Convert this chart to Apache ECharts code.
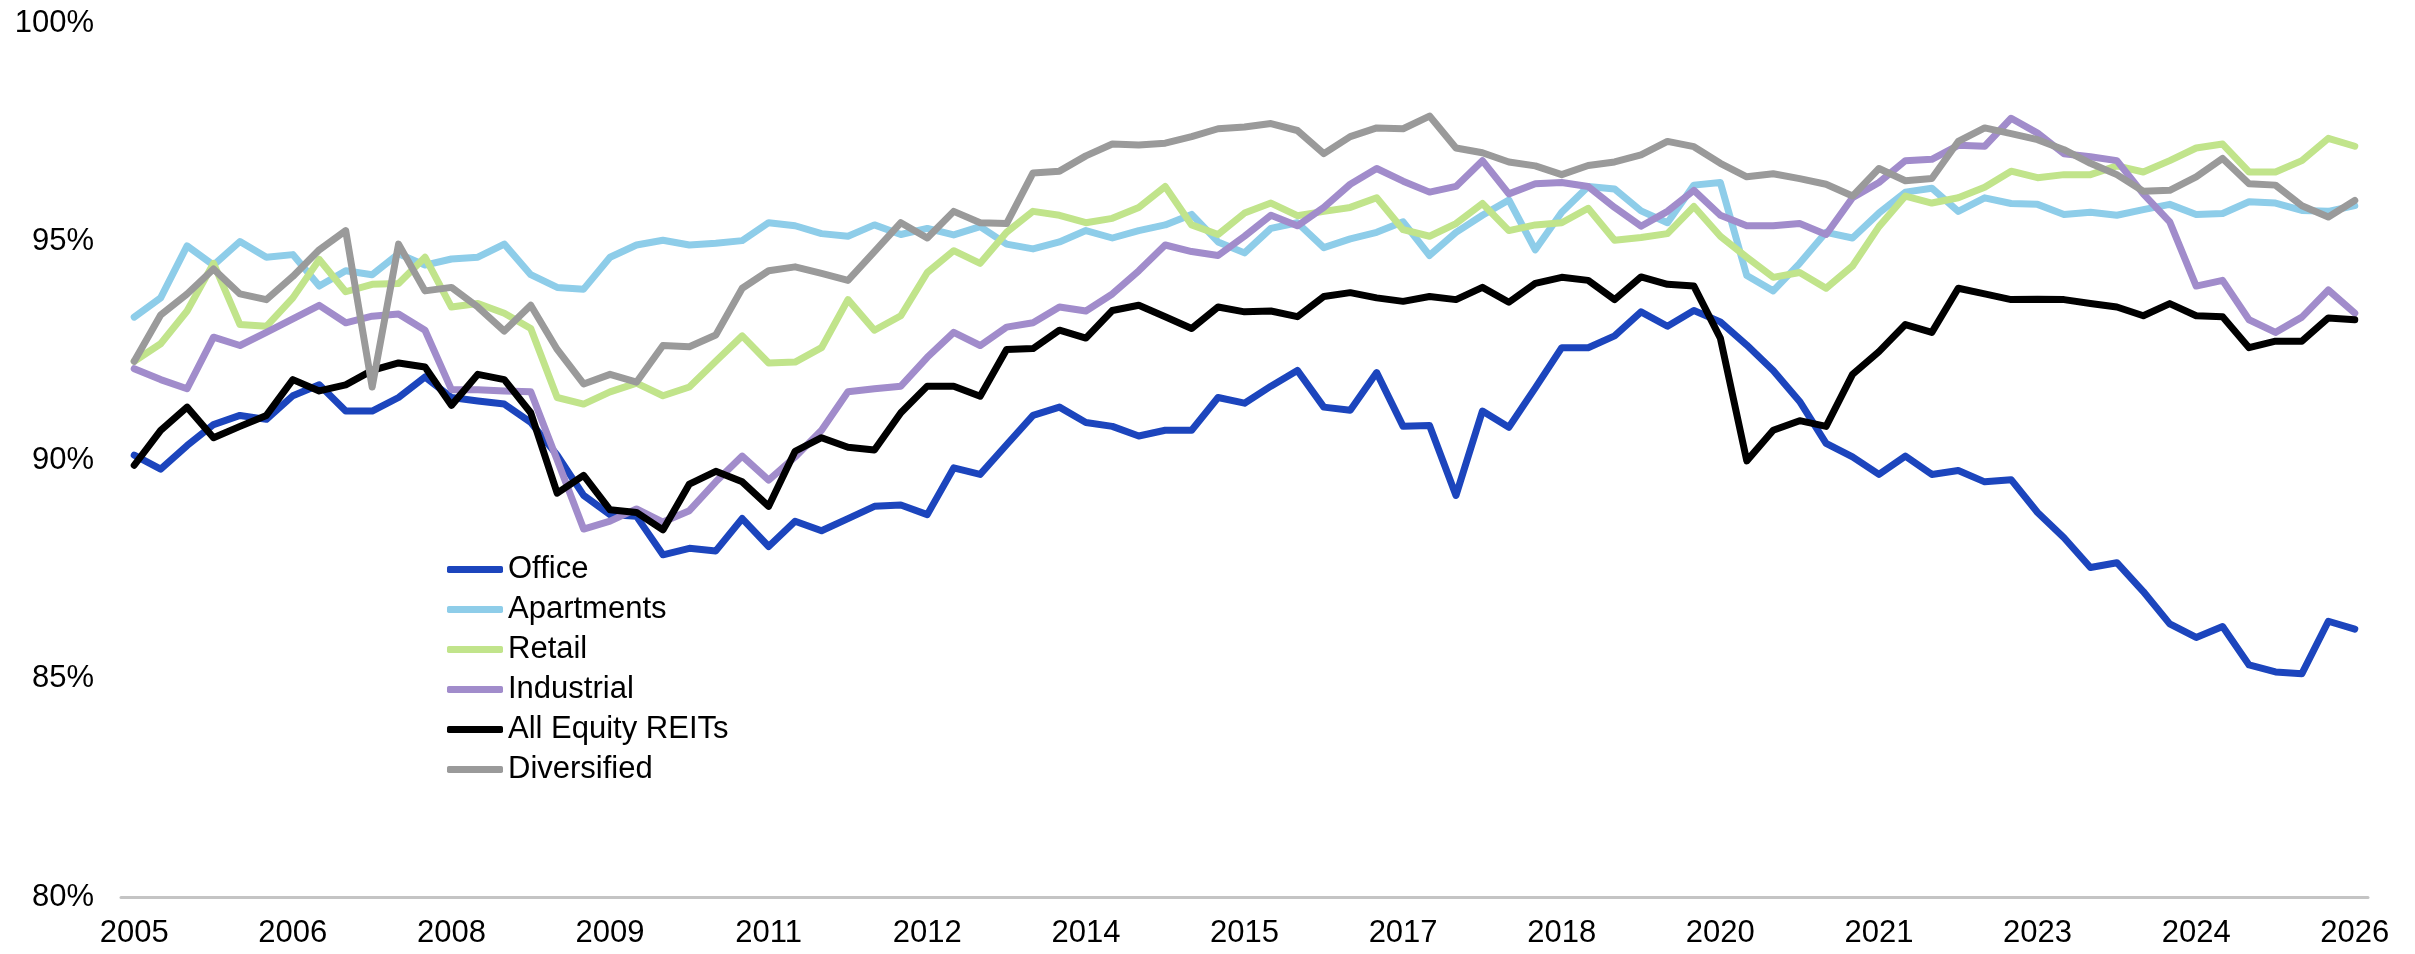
<!DOCTYPE html>
<html>
<head>
<meta charset="utf-8">
<script src="https://cdn.jsdelivr.net/npm/echarts@6/dist/echarts.min.js"></script>
<style>
  html, body { margin: 0; padding: 0; background: #fff; }
  #chart { width: 2415px; height: 954px; }
</style>
</head>
<body>
<div id="chart"></div>
<script>
// quarterly, 2005 Q1 .. 2026 Q1
const quarters = [
  "2005 Q1","2005 Q2","2005 Q3","2005 Q4","2006 Q1","2006 Q2","2006 Q3","2006 Q4",
  "2007 Q1","2007 Q2","2007 Q3","2007 Q4","2008 Q1","2008 Q2","2008 Q3","2008 Q4",
  "2009 Q1","2009 Q2","2009 Q3","2009 Q4","2010 Q1","2010 Q2","2010 Q3","2010 Q4",
  "2011 Q1","2011 Q2","2011 Q3","2011 Q4","2012 Q1","2012 Q2","2012 Q3","2012 Q4",
  "2013 Q1","2013 Q2","2013 Q3","2013 Q4","2014 Q1","2014 Q2","2014 Q3","2014 Q4",
  "2015 Q1","2015 Q2","2015 Q3","2015 Q4","2016 Q1","2016 Q2","2016 Q3","2016 Q4",
  "2017 Q1","2017 Q2","2017 Q3","2017 Q4","2018 Q1","2018 Q2","2018 Q3","2018 Q4",
  "2019 Q1","2019 Q2","2019 Q3","2019 Q4","2020 Q1","2020 Q2","2020 Q3","2020 Q4",
  "2021 Q1","2021 Q2","2021 Q3","2021 Q4","2022 Q1","2022 Q2","2022 Q3","2022 Q4",
  "2023 Q1","2023 Q2","2023 Q3","2023 Q4","2024 Q1","2024 Q2","2024 Q3","2024 Q4",
  "2025 Q1","2025 Q2","2025 Q3","2025 Q4","2026 Q1"
];

const office = [
  90.11, 89.79, 90.33, 90.81, 91.02, 90.93, 91.47, 91.72, 91.12, 91.12, 91.43, 91.90, 91.43, 91.35, 91.28,
  90.86, 90.11, 89.19, 88.75, 88.71, 87.83, 87.98, 87.92, 88.66, 88.02, 88.60, 88.38, 88.66, 88.94,
  88.97, 88.75, 89.82, 89.67, 90.35, 91.02, 91.21, 90.86, 90.77, 90.55, 90.68, 90.68, 91.43, 91.30,
  91.69, 92.05, 91.21, 91.14, 92.00, 90.77, 90.79, 89.19, 91.12, 90.75, 91.65, 92.57, 92.57, 92.84,
  93.39, 93.06, 93.42, 93.16, 92.63, 92.05, 91.34, 90.38, 90.07, 89.67, 90.09, 89.67, 89.76, 89.50,
  89.55, 88.80, 88.22, 87.54, 87.65, 86.99, 86.25, 85.94, 86.19, 85.31, 85.15, 85.11, 86.31, 86.13
];
const apartments = [
  93.27, 93.71, 94.90, 94.46, 95.00, 94.64, 94.70, 93.98, 94.33, 94.24, 94.72, 94.46, 94.60, 94.64, 94.94,
  94.24, 93.95, 93.91, 94.64, 94.92, 95.03, 94.92, 94.96, 95.02, 95.43, 95.36, 95.18, 95.12, 95.38,
  95.16, 95.30, 95.15, 95.34, 94.94, 94.83, 94.99, 95.25, 95.08, 95.25, 95.38, 95.62, 94.99, 94.74,
  95.30, 95.43, 94.86, 95.06, 95.21, 95.45, 94.68, 95.21, 95.60, 95.95, 94.81, 95.67, 96.26, 96.20,
  95.70, 95.43, 96.29, 96.35, 94.22, 93.87, 94.50, 95.21, 95.08, 95.65, 96.13, 96.22, 95.69, 96.00,
  95.87, 95.85, 95.62, 95.67, 95.60, 95.73, 95.85, 95.62, 95.64, 95.91, 95.88, 95.71, 95.69, 95.82
];
const retail = [
  92.26, 92.66, 93.41, 94.50, 93.10, 93.06, 93.71, 94.59, 93.85, 94.02, 94.04, 94.64, 93.50, 93.58, 93.36,
  93.01, 91.43, 91.28, 91.56, 91.76, 91.47, 91.67, 92.26, 92.84, 92.22, 92.24, 92.57, 93.67, 92.97,
  93.30, 94.29, 94.79, 94.50, 95.21, 95.69, 95.60, 95.43, 95.53, 95.78, 96.26, 95.38, 95.16, 95.65,
  95.88, 95.59, 95.69, 95.78, 96.00, 95.27, 95.12, 95.41, 95.87, 95.25, 95.38, 95.43, 95.76, 95.03,
  95.09, 95.18, 95.80, 95.12, 94.64, 94.18, 94.29, 93.93, 94.44, 95.34, 96.04, 95.88, 96.00, 96.24,
  96.61, 96.46, 96.53, 96.53, 96.73, 96.59, 96.85, 97.14, 97.23, 96.59, 96.59, 96.85, 97.36, 97.18
];
const industrial = [
  92.09, 91.84, 91.63, 92.81, 92.62, 92.92, 93.23, 93.54, 93.14, 93.29, 93.34, 92.97, 91.61, 91.61, 91.58,
  91.56, 90.00, 88.42, 88.60, 88.88, 88.58, 88.84, 89.50, 90.09, 89.54, 90.07, 90.68, 91.56, 91.63,
  91.69, 92.35, 92.92, 92.62, 93.04, 93.14, 93.50, 93.41, 93.80, 94.33, 94.92, 94.77, 94.68, 95.12,
  95.60, 95.36, 95.78, 96.31, 96.67, 96.38, 96.13, 96.26, 96.85, 96.09, 96.32, 96.35, 96.26, 95.78,
  95.35, 95.69, 96.17, 95.60, 95.36, 95.36, 95.41, 95.16, 96.00, 96.35, 96.85, 96.88, 97.20, 97.18,
  97.82, 97.48, 97.01, 96.94, 96.85, 96.09, 95.45, 93.98, 94.11, 93.21, 92.92, 93.27, 93.89, 93.36
];
const allEquity = [
  89.88, 90.68, 91.21, 90.51, 90.77, 91.02, 91.84, 91.58, 91.72, 92.05, 92.22, 92.13, 91.25, 91.96, 91.84,
  91.08, 89.24, 89.65, 88.86, 88.80, 88.40, 89.45, 89.74, 89.50, 88.94, 90.20, 90.51, 90.29, 90.23,
  91.08, 91.69, 91.69, 91.46, 92.53, 92.55, 92.97, 92.79, 93.42, 93.54, 93.28, 93.01, 93.50, 93.39,
  93.41, 93.28, 93.74, 93.83, 93.71, 93.63, 93.74, 93.67, 93.95, 93.61, 94.04, 94.18, 94.11, 93.67,
  94.19, 94.02, 93.98, 92.79, 89.98, 90.68, 90.90, 90.77, 91.96, 92.48, 93.10, 92.92, 93.93, 93.80,
  93.67, 93.68, 93.67, 93.58, 93.50, 93.30, 93.58, 93.30, 93.28, 92.57, 92.72, 92.72, 93.25, 93.21
];
const diversified = [
  92.26, 93.32, 93.80, 94.37, 93.80, 93.67, 94.20, 94.81, 95.25, 91.67, 94.94, 93.87, 93.95, 93.50, 92.95,
  93.54, 92.53, 91.74, 91.96, 91.78, 92.62, 92.59, 92.86, 93.93, 94.33, 94.42, 94.27, 94.11, 94.77,
  95.43, 95.08, 95.69, 95.43, 95.41, 96.57, 96.61, 96.96, 97.23, 97.21, 97.25, 97.40, 97.58, 97.62,
  97.70, 97.54, 97.01, 97.40, 97.60, 97.58, 97.87, 97.14, 97.03, 96.82, 96.73, 96.53, 96.74, 96.82,
  96.98, 97.29, 97.17, 96.79, 96.48, 96.55, 96.44, 96.31, 96.04, 96.67, 96.39, 96.44, 97.29, 97.60,
  97.47, 97.33, 97.10, 96.79, 96.53, 96.15, 96.17, 96.48, 96.90, 96.32, 96.29, 95.82, 95.56, 95.94
];

const names = ["Office", "Apartments", "Retail", "Industrial", "All Equity REITs", "Diversified"];
const colors = ["#1c45bd", "#8ecde9", "#c1e48b", "#a18ccb", "#000000", "#9a9a9a"];
const values = [office, apartments, retail, industrial, allEquity, diversified];

const font = "'Liberation Sans', Arial, sans-serif";

const chart = echarts.init(document.getElementById("chart"), null, { renderer: "canvas" });

chart.setOption({
  animation: false,
  backgroundColor: "#ffffff",
  grid: { left: 121, right: 47, top: 23, bottom: 57, containLabel: false },
  legend: {
    orient: "vertical",
    left: 442,
    top: 549,
    icon: "roundRect",
    itemWidth: 56,
    itemHeight: 7,
    itemGap: 9,
    data: names,
    textStyle: { fontFamily: font, fontSize: 31, color: "#000", lineHeight: 31 }
  },
  xAxis: {
    type: "category",
    boundaryGap: true,
    data: quarters,
    axisLine: { lineStyle: { color: "#c4c4c4", width: 3 } },
    axisTick: { show: false },
    axisLabel: {
      interval: 5,
      margin: 21,
      fontFamily: font,
      fontSize: 31,
      color: "#000",
      formatter: v => v.slice(0, 4)
    },
    splitLine: { show: false }
  },
  yAxis: {
    type: "value",
    min: 80,
    max: 100,
    interval: 5,
    axisLine: { show: false },
    axisTick: { show: false },
    splitLine: { show: false },
    axisLabel: {
      margin: 27,
      fontFamily: font,
      fontSize: 31,
      color: "#000",
      formatter: "{value}%"
    }
  },
  series: names.map((name, k) => ({
    name: name,
    type: "line",
    data: values[k],
    symbol: "none",
    smooth: false,
    color: colors[k],
    itemStyle: { color: colors[k] },
    lineStyle: { color: colors[k], width: 7, cap: "round", join: "round" }
  }))
});
</script>
</body>
</html>
